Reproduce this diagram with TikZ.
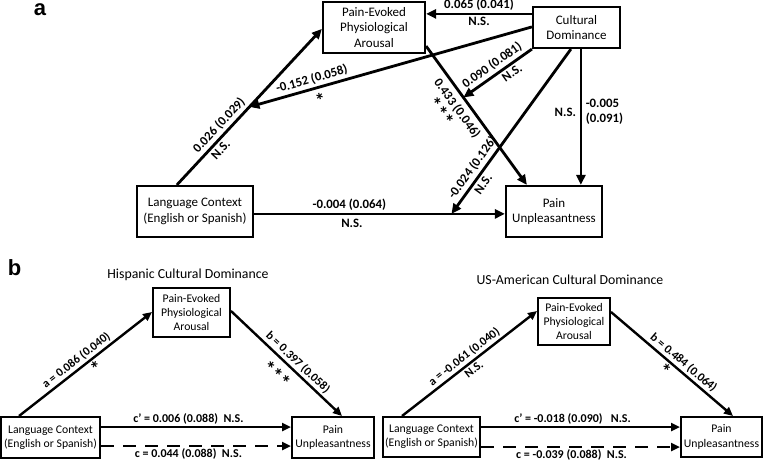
\documentclass[tikz,border=0pt]{standalone}
\usepackage{fontspec}
\setmainfont{Carlito}
\newfontfamily\panelfont{Liberation Sans}
\usetikzlibrary{arrows.meta,calc}
\begin{document}
\begin{tikzpicture}[x=1pt,y=-1pt,
  boxa/.style={draw,line width=2.2pt,inner sep=0pt,align=center,font=\fontsize{13}{15.5}\selectfont},
  boxb/.style={draw,line width=2pt,inner sep=0pt,align=center,font=\fontsize{11.7}{14.2}\selectfont},
  arra/.style={line width=2.8pt,-{Triangle[length=10pt,width=9pt]}},
  arrb/.style={line width=2.4pt,-{Triangle[length=9pt,width=8pt]}},
  dasharr/.style={arrb,dash pattern=on 13pt off 9pt},
  laba/.style={font=\bfseries\fontsize{12.8}{15}\selectfont,inner sep=1.5pt,sloped},
  labb/.style={font=\bfseries\fontsize{12}{14}\selectfont,inner sep=1.5pt,sloped},
  labv/.style={font=\bfseries\fontsize{12.8}{15.5}\selectfont,inner sep=1.5pt},
  star/.style={font=\bfseries\fontsize{20}{20}\selectfont,inner sep=0pt,sloped},
  titl/.style={font=\fontsize{13.8}{16}\selectfont,inner sep=0pt},
  panel/.style={font=\panelfont\bfseries\fontsize{22}{24}\selectfont,inner sep=0pt,anchor=base}
]
\useasboundingbox (0,0) rectangle (763,461);

% ---------------- panel a ----------------
\node[panel] (pa) at (40,15.5) {a};
\node[boxa,minimum width=102pt,minimum height=51pt] (pepa) at (374,27.5) {Pain-Evoked\\Physiological\\Arousal};
\node[boxa,minimum width=87pt,minimum height=41pt] (cd) at (576.5,27.5) {Cultural\\Dominance};
\node[boxa,minimum width=116pt,minimum height=51pt] (lca) at (195,211.5) {Language Context\\(English or Spanish)};
\node[boxa,minimum width=96pt,minimum height=51pt] (pua) at (554,211.5) {Pain\\Unpleasantness};

% LC -> PEPA
\coordinate (a1s) at ($(lca.north west)+(41,0)$);
\coordinate (a1e) at ($(pepa.north west)+(0,28)$);
\draw[arra] (a1s) -- (a1e)
  node[laba,pos=0.34,above=1pt] {0.026 (0.029)}
  node[laba,pos=0.26,below=1pt] {N.S.};
\coordinate (j1) at ($(a1s)!0.5!(a1e)$);

% CD -> PEPA
\draw[arra] ($(cd.north west)+(0,8)$) -- ($(pepa.north east)+(0,13)$)
  node[laba,pos=0.5,above=0.5pt] {0.065 (0.041)}
  node[laba,pos=0.5,below=0.5pt] {N.S.};

% CD -> (LC->PEPA)
\draw[arra] ($(cd.north west)+(0,21)$) -- (j1)
  node[laba,pos=0.77,above=1pt] {-0.152 (0.058)}
  node[star,pos=0.76,below=4pt] {*};

% PEPA -> PU
\coordinate (a4s) at ($(pepa.south east)+(0,-8)$);
\coordinate (a4e) at ($(pua.north west)+(22,0)$);
\draw[arra] (a4s) -- (a4e)
  node[laba,pos=0.40,below=3pt] {0.433 (0.046)}
  node[star,pos=0.36,below=18.5pt] {*\kern0.5pt*\kern0.5pt*};
\coordinate (j2) at ($(a4s)!0.37!(a4e)$);

% CD -> (PEPA->PU)
\draw[arra] (cd.south west) -- (j2)
  node[laba,pos=0.5,above=1pt] {0.090 (0.081)}
  node[laba,pos=0.36,below=1pt] {N.S.};

% LC -> PU
\coordinate (a8s) at ($(lca.north east)+(0,29)$);
\coordinate (a8e) at ($(pua.north west)+(0,29)$);
\draw[arra] (a8s) -- (a8e)
  node[laba,pos=0.38,above=1pt] {-0.004 (0.064)}
  node[laba,pos=0.39,below=2pt] {N.S.};
\coordinate (j3) at ($(a8s)!0.787!(a8e)$);

% CD -> (LC->PU)
\draw[arra] ($(cd.south west)+(39,0)$) -- (j3)
  node[laba,pos=0.755,above=1.5pt] {-0.024 (0.126)}
  node[laba,pos=0.79,below=1pt] {N.S.};

% CD -> PU
\draw[arra] ($(cd.south west)+(49,0)$) -- ($(pua.north west)+(76,0)$)
  node[labv,pos=0.46,right=2pt,align=left] {-0.005\\(0.091)}
  node[labv,pos=0.465,left=2pt] {N.S.};

% ---------------- panel b ----------------
\node[panel] (pb) at (14.5,275) {b};

% left: Hispanic
\node[titl] (tl) at (188,275) {Hispanic Cultural Dominance};
\node[boxb,minimum width=77pt,minimum height=49pt] (pepaL) at (191.5,312.5) {Pain-Evoked\\Physiological\\Arousal};
\node[boxb,minimum width=99pt,minimum height=41pt] (lcL) at (50.5,437.5) {Language Context\\(English or Spanish)};
\node[boxb,minimum width=82pt,minimum height=41pt] (puL) at (333,437.5) {Pain\\Unpleasantness};

\draw[arrb] ($(lcL.north west)+(19,0)$) -- ($(pepaL.north west)+(0,25)$)
  node[labb,pos=0.47,above=0.5pt] {a = 0.086 (0.040)}
  node[star,pos=0.54,below=1.5pt] {*};
\draw[arrb] ($(pepaL.north east)+(0,24)$) -- ($(puL.north west)+(51,0)$)
  node[labb,pos=0.55,above=0.5pt] {b = 0.397 (0.058)}
  node[star,pos=0.5,below=7pt] {*\kern0.5pt*\kern0.5pt*};
\draw[arrb] ($(lcL.north east)+(0,11)$) -- ($(puL.north west)+(0,11)$)
  node[labb,pos=0.46,above] {c’ = 0.006 (0.088)\ \ N.S.};
\draw[dasharr] ($(lcL.north east)+(0,30)$) -- ($(puL.north west)+(0,30)$)
  node[labb,pos=0.46,below] {c = 0.044 (0.088)\ \ N.S.};

% right: US-American
\node[titl] (tr) at (570,280) {US-American Cultural Dominance};
\node[boxb,minimum width=72pt,minimum height=47pt] (pepaR) at (574,321.5) {Pain-Evoked\\Physiological\\Arousal};
\node[boxb,minimum width=97pt,minimum height=40pt] (lcR) at (431.5,437) {Language Context\\(English or Spanish)};
\node[boxb,minimum width=81pt,minimum height=40pt] (puR) at (721.5,437) {Pain\\Unpleasantness};

\draw[arrb] ($(lcR.north west)+(20,0)$) -- ($(pepaR.north west)+(0,14)$)
  node[labb,pos=0.5,above=0.5pt] {a = -0.061 (0.040)}
  node[labb,pos=0.5,below=0.5pt] {N.S.};
\draw[arrb] ($(pepaR.north east)+(0,15)$) -- ($(puR.north west)+(53,0)$)
  node[labb,pos=0.55,above=0.5pt] {b = 0.484 (0.064)}
  node[star,pos=0.49,below=1.5pt] {*};
\draw[arrb] ($(lcR.north east)+(0,11)$) -- ($(puR.north west)+(0,11)$)
  node[labb,pos=0.46,above] {c’ = -0.018 (0.090)\ \ \ N.S.};
\draw[dasharr] ($(lcR.north east)+(0,31)$) -- ($(puR.north west)+(0,31)$)
  node[labb,pos=0.455,below] {c = -0.039 (0.088)\ \ N.S.};
\end{tikzpicture}
\end{document}
